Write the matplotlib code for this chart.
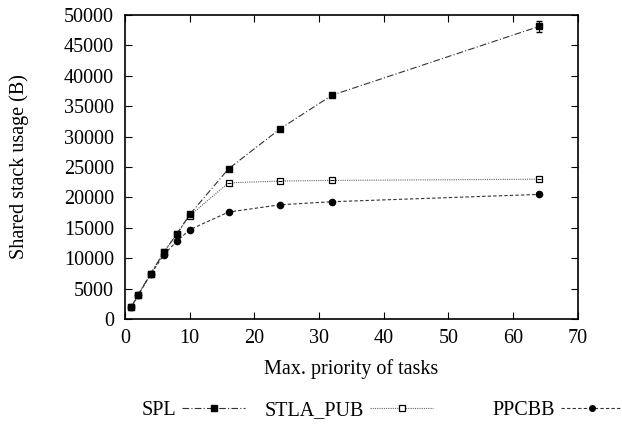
import numpy as np
import matplotlib
matplotlib.use("Agg")
import matplotlib.pyplot as plt
from matplotlib.lines import Line2D

plt.rcParams['font.family'] = ['Liberation Serif', 'DejaVu Serif']
plt.rcParams['font.size'] = 14.5

# Daten
prio = [1, 2, 4, 6, 8, 10, 16, 24, 32, 64]
spl = [2000, 4000, 7500, 11000, 14000, 17200, 24700, 31300, 36800, 48100]
spl_err = [0, 0, 0, 0, 0, 0, 0, 0, 350, 900]
stla_pub = [2000, 4000, 7500, 11000, 14000, 17000, 22400, 22700, 22800, 23000]
ppcbb = [2000, 3900, 7400, 10600, 12800, 14700, 17600, 18800, 19300, 20500]

fig = plt.figure(figsize=(6.22, 4.25), dpi=100)
ax = fig.add_axes([0.201, 0.249, 0.728, 0.716])

spl_style = dict(color='#333333', lw=0.8, dashes=[6, 2, 1, 2],
                 marker='s', mfc='black', mec='black')
stla_style = dict(color='#666666', lw=0.8, linestyle=(0, (1, 1)),
                  marker='s', mfc='white', mec='black', mew=0.9)
ppcbb_style = dict(color='#333333', lw=0.8, linestyle=(0, (3, 2)),
                   marker='o', mfc='black', mec='black')

ax.errorbar(prio, spl, yerr=spl_err, ms=5, ecolor='black',
            elinewidth=0.8, capsize=2, **spl_style)
ax.plot(prio, stla_pub, ms=5, **stla_style)
ax.plot(prio, stla_pub, linestyle='none', marker='_', ms=3.5, mec='black', mew=0.8)
ax.plot(prio, ppcbb, ms=4.5, **ppcbb_style)

ax.set_xlim(0, 70)
ax.set_ylim(0, 50000)
ax.set_xticks(np.arange(0, 71, 10))
ax.set_yticks(np.arange(0, 50001, 5000))
ax.tick_params(direction='in', top=True, right=True, length=5, width=0.8)
ax.tick_params(axis='x', pad=7)
ax.tick_params(axis='y', pad=8)
for s in ax.spines.values():
    s.set_linewidth(1.2)

ax.set_xlabel('Max. priority of tasks')
ax.set_ylabel('Shared stack usage (B)')
ax.xaxis.set_label_coords(0.5, -0.13)
ax.yaxis.set_label_coords(-0.213, 0.5)

# Legende im gnuplot-Stil: Text links, Linienmuster rechts
legends = [
    ('SPL', dict(ms=4.5, **spl_style), 0.228),
    ('STLA_PUB', dict(ms=4.5, **stla_style), 0.426),
    ('PPCBB', dict(ms=4, **ppcbb_style), 0.791),
]
for name, style, xpos in legends:
    h = Line2D([], [], **style)
    fig.legend([h], [name], loc='center left', bbox_to_anchor=(xpos, 0.035),
               frameon=False, markerfirst=False, handlelength=3.1,
               handletextpad=0.3, borderpad=0, borderaxespad=0)

fig.savefig('out.png', dpi=100)
